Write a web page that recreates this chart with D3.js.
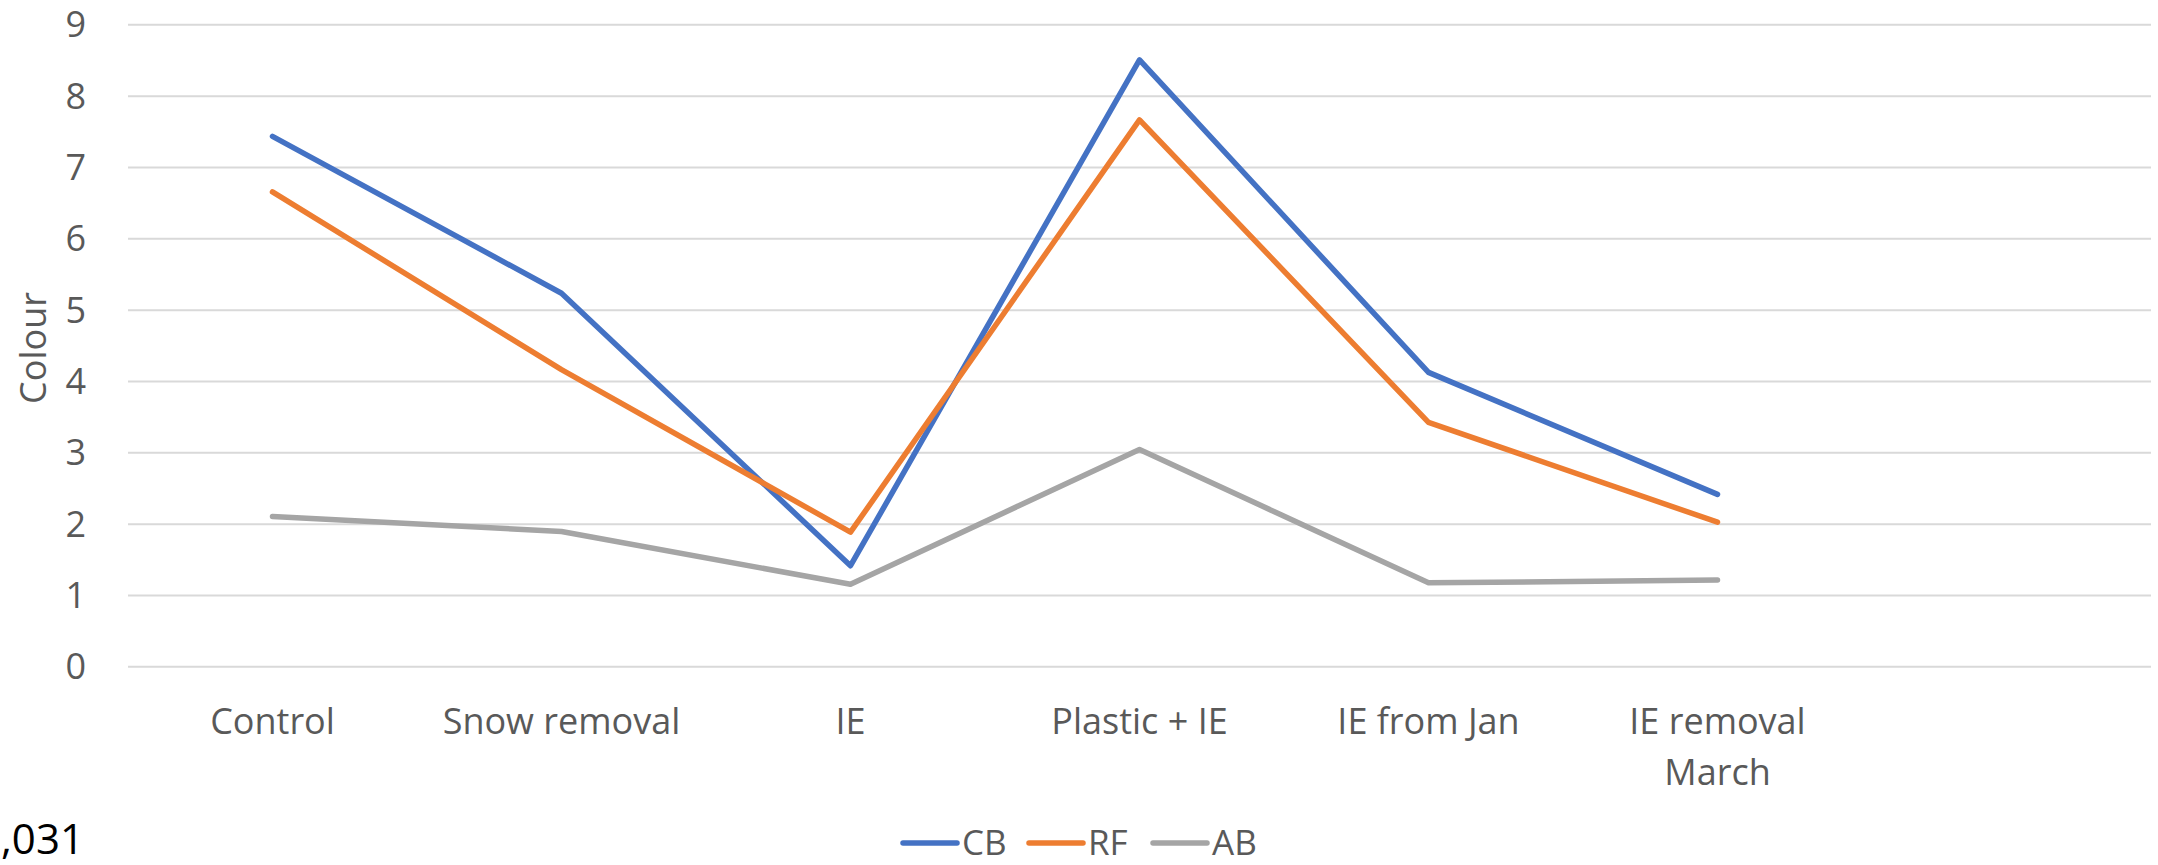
<!DOCTYPE html>
<html>
<head>
<meta charset="utf-8">
<script src="https://cdn.jsdelivr.net/npm/d3@7/dist/d3.min.js"></script>
<style>
  html, body { margin: 0; padding: 0; background: #fff; }
  svg { display: block; }
  text { font-family: "Open Sans", "DejaVu Sans", sans-serif; }
</style>
</head>
<body>
<svg id="chart" width="2158" height="865"></svg>
<script>
// ---- data ----
const categories = ["Control", "Snow removal", "IE", "Plastic + IE", "IE from Jan", "IE removal March", ""];
const seriesNames = ["CB", "RF", "AB"];
const cbValues = [7.43, 5.23, 1.41, 8.50, 4.12, 2.41];
const rfValues = [6.65, 4.16, 1.88, 7.66, 3.42, 2.02];
const abValues = [2.10, 1.89, 1.15, 3.04, 1.17, 1.21];
const yTicks = [0, 1, 2, 3, 4, 5, 6, 7, 8, 9];
const colors = ["#4472C4", "#ED7D31", "#A5A5A5"];

const series = [cbValues, rfValues, abValues].map((v, i) => ({ name: seriesNames[i], values: v, color: colors[i] }));

// ---- layout ----
const svg = d3.select("#chart");
const plotLeft = 128, plotRight = 2151, plotTop = 24.3, plotBottom = 666.3;

const x = d3.scaleBand().domain(categories.map((c, i) => i)).range([plotLeft, plotRight]);
const y = d3.scaleLinear().domain([0, 9]).range([plotBottom, plotTop]);

// gridlines + y labels
const yAxis = svg.append("g")
  .attr("transform", `translate(${plotLeft},0)`)
  .call(d3.axisLeft(y).tickValues(yTicks).tickSize(-(plotRight - plotLeft)).tickPadding(42).tickFormat(d3.format("d")));
yAxis.select(".domain").remove();
yAxis.selectAll(".tick line").attr("stroke", "#D9D9D9").attr("stroke-width", 2);
yAxis.selectAll(".tick text")
  .attr("fill", "#595959").style("font-size", "36px").attr("dy", "0.35em");

// x labels
const xAxis = svg.append("g")
  .attr("transform", `translate(0,${plotBottom})`)
  .call(d3.axisBottom(x).tickSize(0).tickFormat(i => categories[i]));
xAxis.select(".domain").remove();
xAxis.selectAll(".tick text").each(function(i) {
  const t = d3.select(this);
  const label = categories[i];
  t.text(null).attr("fill", "#595959").style("font-size", "36px").attr("y", 0).attr("dy", null);
  let lines = [label];
  if (label === "IE removal March") lines = ["IE removal", "March"];
  lines.forEach((ln, k) => {
    t.append("tspan").attr("x", 0).attr("y", 68 + k * 51).text(ln);
  });
});

// lines
const line = d3.line()
  .x((d, i) => x(i) + x.bandwidth() / 2)
  .y(d => y(d));

svg.append("g").selectAll("path")
  .data(series)
  .join("path")
  .attr("d", d => line(d.values))
  .attr("fill", "none")
  .attr("stroke", d => d.color)
  .attr("stroke-width", 5.5)
  .attr("stroke-linejoin", "round")
  .attr("stroke-linecap", "round");

// y-axis title
svg.append("text")
  .attr("transform", `translate(46,${348}) rotate(-90)`)
  .attr("text-anchor", "middle")
  .attr("fill", "#595959")
  .style("font-size", "36px")
  .text("Colour");

// legend
const legendX = [903, 1029, 1153];
const legend = svg.append("g");
series.forEach((s, i) => {
  legend.append("line")
    .attr("x1", legendX[i]).attr("x2", legendX[i] + 54)
    .attr("y1", 843).attr("y2", 843)
    .attr("stroke", s.color).attr("stroke-width", 5.5).attr("stroke-linecap", "round");
  legend.append("text")
    .attr("x", legendX[i] + 59).attr("y", 855)
    .attr("fill", "#595959").style("font-size", "35px")
    .text(s.name);
});

// stray fragment at bottom-left
svg.append("text")
  .attr("x", 1).attr("y", 854)
  .attr("fill", "#000").style("font-size", "42px")
  .text(",031");
</script>
</body>
</html>
